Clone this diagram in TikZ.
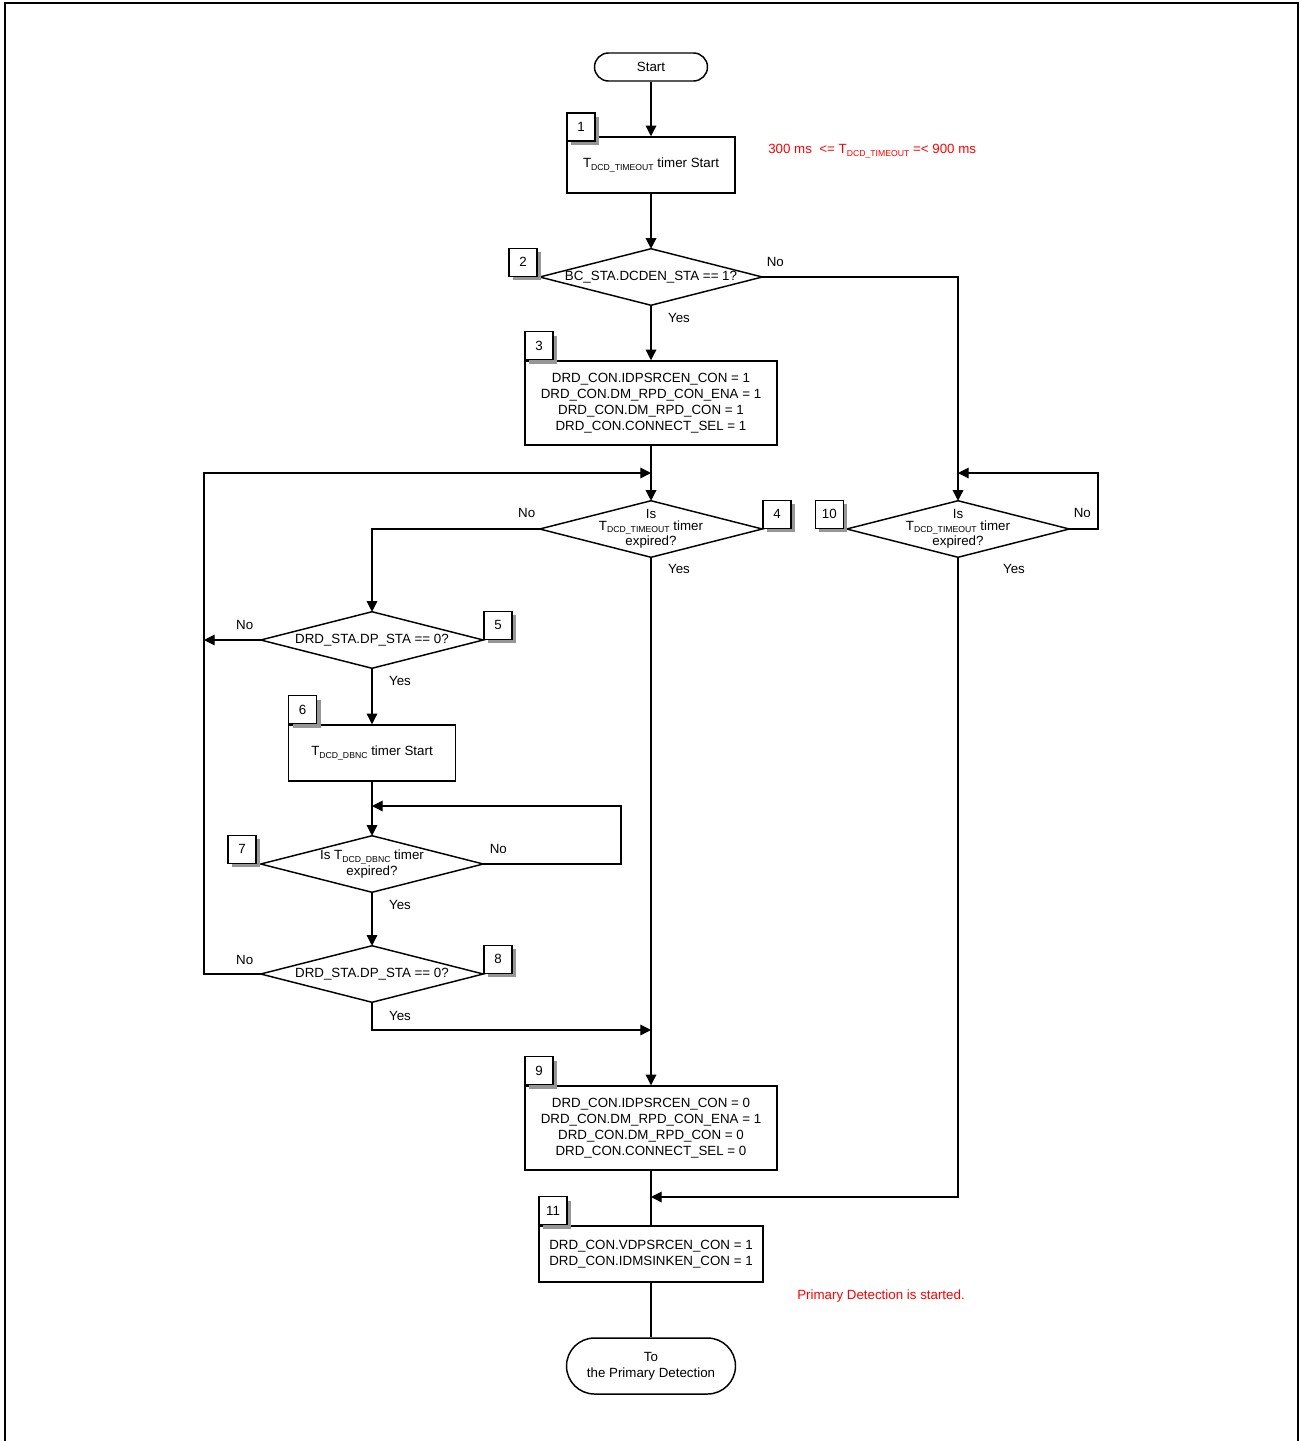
\documentclass[tikz,border=0pt]{standalone}
\usepackage{fontspec}
\setmainfont{Liberation Sans}
\usepackage{xcolor}
\definecolor{notered}{RGB}{255,0,0}
\definecolor{tagshade}{RGB}{150,150,150}
\usepackage{tikz}
\usetikzlibrary{positioning,arrows.meta,shapes.misc,shadows}
\newcommand{\tsub}[1]{T\raisebox{-0.4ex}{\fontsize{6.5}{7}\selectfont #1}}
\tikzset{
  termbox/.style ={rounded rectangle,draw,line width=1.1pt,align=center,inner sep=0pt,
                   font=\fontsize{10}{12}\selectfont},
  procbox/.style ={rectangle,draw,line width=1.1pt,align=center,inner sep=0pt,
                   minimum height=42pt,font=\fontsize{10}{12}\selectfont},
  decbox/.style  ={rectangle,inner sep=0pt,align=center,minimum width=166.5pt,
                   minimum height=42pt,font=\fontsize{10}{12}\selectfont},
  tagbox/.style  ={rectangle,draw,line width=1.1pt,fill=white,minimum size=21pt,inner sep=0pt,
                   font=\fontsize{10}{12}\selectfont,
                   drop shadow={shadow xshift=3pt,shadow yshift=-3pt,fill=tagshade,opacity=1}},
  lbl/.style     ={inner sep=0pt,font=\fontsize{10}{12}\selectfont},
  note/.style    ={inner sep=0pt,text=notered,font=\fontsize{10}{12}\selectfont},
  flow/.style    ={-{Triangle[length=8pt,width=8pt]},line width=0.9pt},
  link/.style    ={line width=0.9pt},
}
\begin{document}
\begin{tikzpicture}[x=0.75pt,y=-0.75pt]
  \useasboundingbox (0,0) rectangle (1300,1441);
  \draw[line width=1.5pt] (5,1441) -- (5,3) -- (1298,3) -- (1298,1441);

  % main column
  \node[termbox,minimum width=84.75pt,minimum height=21pt] (start) at (651,67) {Start};
  \node[procbox,minimum width=126pt] (b1) at (651,165) {\tsub{DCD\_TIMEOUT} timer Start};
  \node[decbox] (d2) at (651,277) {BC\_STA.DCDEN\_STA == 1?};
  \node[procbox,minimum width=189pt,minimum height=63pt] (b3) at (651,403)
    {DRD\_CON.IDPSRCEN\_CON = 1\\DRD\_CON.DM\_RPD\_CON\_ENA = 1\\DRD\_CON.DM\_RPD\_CON = 1\\DRD\_CON.CONNECT\_SEL = 1};
  \node[decbox,font=\fontsize{10}{8.6}\selectfont] (d4) at (651,529) {Is\\\tsub{DCD\_TIMEOUT} timer\\expired?};
  \node[procbox,minimum width=189pt,minimum height=63pt] (b9) at (651,1128)
    {DRD\_CON.IDPSRCEN\_CON = 0\\DRD\_CON.DM\_RPD\_CON\_ENA = 1\\DRD\_CON.DM\_RPD\_CON = 0\\DRD\_CON.CONNECT\_SEL = 0};
  \node[procbox,minimum width=168pt] (b11) at (651,1254) {DRD\_CON.VDPSRCEN\_CON = 1\\DRD\_CON.IDMSINKEN\_CON = 1};
  \node[termbox,minimum width=126.75pt,minimum height=42pt] (stop) at (651,1366) {To\\the Primary Detection};

  % debounce column
  \node[decbox] (d5) at (372,640) {DRD\_STA.DP\_STA == 0?};
  \node[procbox,minimum width=125.25pt] (b6) at (372,753) {\tsub{DCD\_DBNC} timer Start};
  \node[decbox] (d7) at (372,864) {Is \tsub{DCD\_DBNC} timer\\expired?};
  \node[decbox] (d8) at (372,974) {DRD\_STA.DP\_STA == 0?};

  % timeout column
  \node[decbox,font=\fontsize{10}{8.6}\selectfont] (d10) at (958,529) {Is\\\tsub{DCD\_TIMEOUT} timer\\expired?};

  \foreach \d in {d2,d4,d5,d7,d8,d10}
    \draw[line width=1.1pt] (\d.west) -- (\d.north) -- (\d.east) -- (\d.south) -- cycle;

  % step numbers
  \node[tagbox,above right=-4pt and 0pt of b1.north west] (t1) {1};
  \node[tagbox,above left=0pt and 1.5pt of d2.west] (t2) {2};
  \node[tagbox,above right=0pt and 0pt of b3.north west] (t3) {3};
  \node[tagbox,above right=0pt and 0pt of d4.east] (t4) {4};
  \node[tagbox,above right=0pt and 0pt of d5.east] (t5) {5};
  \node[tagbox,above right=0pt and 0pt of b6.north west] (t6) {6};
  \node[tagbox,above left=0pt and 3pt of d7.west] (t7) {7};
  \node[tagbox,above right=0pt and 0pt of d8.east] (t8) {8};
  \node[tagbox,above right=0pt and 0pt of b9.north west] (t9) {9};
  \node[tagbox,above left=0pt and 2pt of d10.west] (t10) {10};
  \node[tagbox,above right=0pt and 0pt of b11.north west] (t11) {11};

  % notes
  \node[note,anchor=west] (n1) at (768,151) {300 ms~ <= \tsub{DCD\_TIMEOUT} =< 900 ms};
  \node[note,anchor=west] (n2) at (797,1296) {Primary Detection is started.};

  % joints
  \coordinate (j4) at (651,473);
  \coordinate (lft) at (204,473);
  \coordinate (j10) at (958,473);
  \coordinate (rgt) at (1098,473);
  \coordinate (j7) at (372,806);
  \coordinate (r7) at (621,806);
  \coordinate (j9) at (651,1030);
  \coordinate (j11) at (651,1197);

  \draw[flow] (start.south) -- (b1.north);
  \draw[flow] (b1.south) -- (d2.north);
  \draw[flow] (d2.south) -- node[lbl,pos=0,xshift=21pt,yshift=-9.75pt]{Yes} (b3.north);
  \draw[flow] (d2.east) -- node[lbl,pos=0,xshift=9.75pt,yshift=11.25pt]{No} (d2.east -| d10.north) -- (d10.north);
  \draw[flow] (b3.south) -- (d4.north);
  \draw[flow] (d4.west) -- node[lbl,pos=0,xshift=-9.75pt,yshift=12pt]{No} (d4.west -| d5.north) -- (d5.north);
  \draw[flow] (d4.south) -- node[lbl,pos=0,xshift=21pt,yshift=-9pt]{Yes} (b9.north);
  \draw[flow] (d10.east) -- node[lbl,pos=0,xshift=9.75pt,yshift=12pt]{No} (d10.east -| rgt) -- (rgt) -- (j10);
  \draw[flow] (d10.south) -- node[lbl,pos=0,xshift=42pt,yshift=-9pt]{Yes} (d10.south |- j11) -- (j11);
  \draw[flow] (d5.west) -- node[lbl,pos=0,xshift=-12pt,yshift=11.25pt]{No} (d5.west -| lft);
  \draw[flow] (d5.south) -- node[lbl,pos=0,xshift=21pt,yshift=-9.75pt]{Yes} (b6.north);
  \draw[flow] (b6.south) -- (d7.north);
  \draw[flow] (d7.east) -- node[lbl,pos=0,xshift=11.25pt,yshift=11.25pt]{No} (d7.east -| r7) -- (r7) -- (j7);
  \draw[flow] (d7.south) -- node[lbl,pos=0,xshift=21pt,yshift=-9.75pt]{Yes} (d8.north);
  \draw[flow] (d8.west) -- node[lbl,pos=0,xshift=-12pt,yshift=10.5pt]{No} (d8.west -| lft) -- (lft) -- (j4);
  \draw[flow] (d8.south) -- node[lbl,pos=0,xshift=21pt,yshift=-10.5pt]{Yes} (d8.south |- j9) -- (j9);
  \draw[link] (b9.south) -- (b11.north);
  \draw[link] (b11.south) -- (stop.north);
\end{tikzpicture}
\end{document}
